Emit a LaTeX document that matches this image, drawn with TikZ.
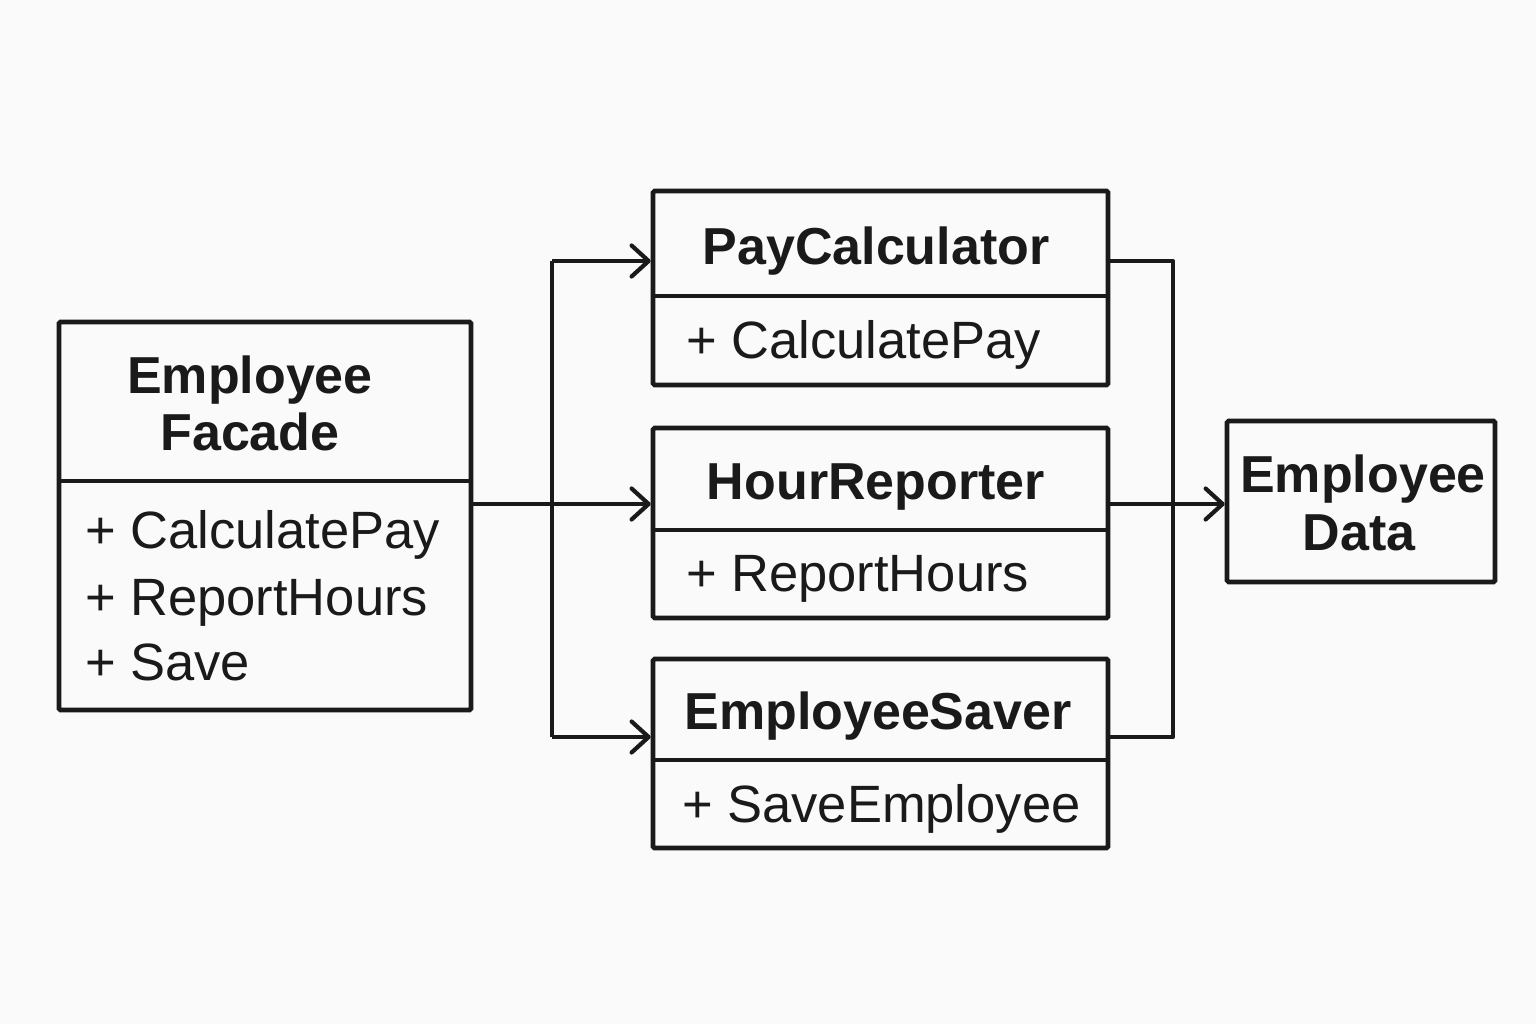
\documentclass[tikz,border=0pt]{standalone}
\usepackage{fontspec}
\setmainfont{Liberation Sans}
\usetikzlibrary{arrows.meta}
\definecolor{ink}{HTML}{1A1A1A}
\definecolor{bg}{HTML}{FAFAFA}
\tikzset{
  umlbox/.style={draw=ink, line width=4.6pt, rectangle, rounded corners=1.5pt, inner sep=0pt},
  divider/.style={draw=ink, line width=4.4pt},
  conn/.style={draw=ink, line width=4.2pt, line join=round},
  arr/.style={conn, -{Straight Barb[length=17pt,width=31pt,line width=4.2pt,round]}},
  ttl/.style={text=ink, font=\fontsize{52}{57}\selectfont\bfseries, anchor=base, inner sep=0pt},
  mth/.style={text=ink, font=\fontsize{52.5}{66}\selectfont, anchor=base west, inner sep=0pt},
}
\begin{document}
\begin{tikzpicture}[x=1pt,y=-1pt]
\fill[bg] (0,0) rectangle (1536,1024);
\useasboundingbox (0,0) rectangle (1536,1024);
% boxes
\node[umlbox, minimum width=412pt, minimum height=388pt] (facade) at (265,516) {};
\node[umlbox, minimum width=455pt, minimum height=194pt] (pay) at (880.5,288) {};
\node[umlbox, minimum width=455pt, minimum height=190pt] (hour) at (880.5,523) {};
\node[umlbox, minimum width=455pt, minimum height=189pt] (saver) at (880.5,753.5) {};
\node[umlbox, minimum width=268pt, minimum height=161pt] (data) at (1361,501.5) {};
% dividers
\coordinate (dF) at (265,481);
\coordinate (dP) at (880,296);
\coordinate (dH) at (880,530);
\coordinate (dS) at (880,760);
\draw[divider] (dF -| facade.west) -- (dF -| facade.east);
\draw[divider] (dP -| pay.west) -- (dP -| pay.east);
\draw[divider] (dH -| hour.west) -- (dH -| hour.east);
\draw[divider] (dS -| saver.west) -- (dS -| saver.east);
% texts
\node[ttl] (tF1) at (250,393) {Employee};
\node[ttl] (tF2) at (250,450) {Facade};
\node[mth] (mF1) at (85,548) {+ CalculatePay};
\node[mth] (mF2) at (85,615) {+ ReportHours};
\node[mth] (mF3) at (85,680) {+ Save};
\node[ttl] (tP) at (876,265) {PayCalculator};
\node[mth] (mP) at (686,358) {+ CalculatePay};
\node[ttl] (tH) at (876,499) {HourReporter};
\node[mth] (mH) at (686,591) {+ ReportHours};
\node[ttl] (tS) at (878,729) {EmployeeSaver};
\node[mth] (mS) at (682,822) {+ SaveEmployee};
\node[ttl] (tD1) at (1363,492) {Employee};
\node[ttl] (tD2) at (1359,550) {Data};
% connectors
\coordinate (bus) at (552,504);
\coordinate (bustop) at (552,261);
\coordinate (busbot) at (552,737);
\coordinate (rtop) at (1173,261);
\coordinate (rbot) at (1173,737);
\draw[arr] (bus -| facade.east) -- (bus -| hour.west);
\draw[conn] (bustop) -- (busbot);
\draw[arr] (bustop) -- (bustop -| pay.west);
\draw[arr] (busbot) -- (busbot -| saver.west);
\draw[conn] (rtop -| pay.east) -- (rtop) -- (rbot) -- (rbot -| saver.east);
\draw[arr] (bus -| hour.east) -- (bus -| data.west);
\end{tikzpicture}
\end{document}
